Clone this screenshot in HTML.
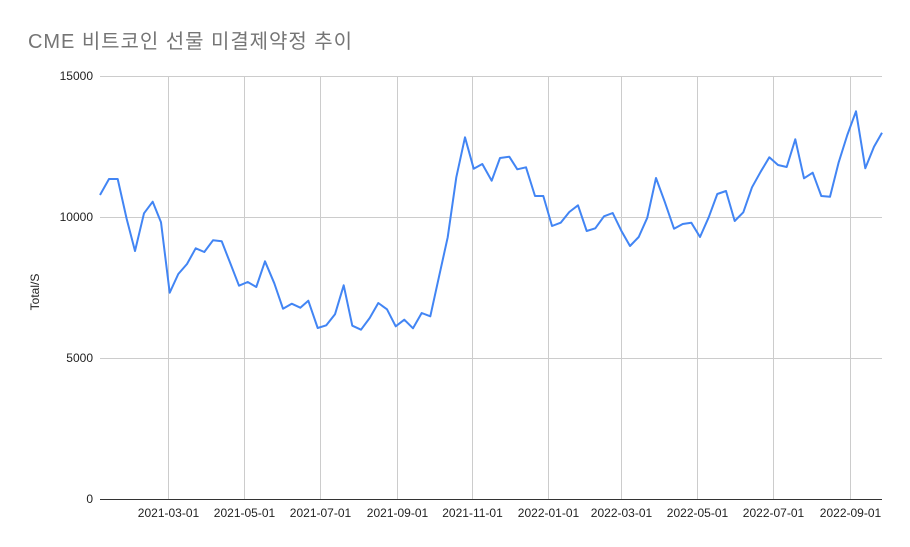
<!DOCTYPE html>
<html><head><meta charset="utf-8"><style>
html,body{margin:0;padding:0;background:#fff;width:910px;height:547px;overflow:hidden}
svg{display:block}
</style></head><body>
<svg width="910" height="547" viewBox="0 0 910 547" xmlns="http://www.w3.org/2000/svg">
<rect width="910" height="547" fill="#fff"/>
<text x="28" y="48" font-family="'Liberation Sans','Noto Sans CJK KR',sans-serif" font-size="20" textLength="324" lengthAdjust="spacing" fill="#757575">CME 비트코인 선물 미결제약정 추이</text>
<g stroke="#cccccc" stroke-width="1">
<line x1="100" y1="76.5" x2="882" y2="76.5"/>
<line x1="100" y1="217.5" x2="882" y2="217.5"/>
<line x1="100" y1="358.5" x2="882" y2="358.5"/>
<line x1="168.5" y1="76" x2="168.5" y2="499"/>
<line x1="244.5" y1="76" x2="244.5" y2="499"/>
<line x1="320.5" y1="76" x2="320.5" y2="499"/>
<line x1="397.5" y1="76" x2="397.5" y2="499"/>
<line x1="472.5" y1="76" x2="472.5" y2="499"/>
<line x1="548.5" y1="76" x2="548.5" y2="499"/>
<line x1="621.5" y1="76" x2="621.5" y2="499"/>
<line x1="697.5" y1="76" x2="697.5" y2="499"/>
<line x1="773.5" y1="76" x2="773.5" y2="499"/>
<line x1="850.5" y1="76" x2="850.5" y2="499"/>
</g>
<line x1="100" y1="499.5" x2="882" y2="499.5" stroke="#333" stroke-width="1"/>
<g font-family="'Liberation Sans',sans-serif" font-size="12" fill="#222" text-anchor="end">
<text x="93" y="80">15000</text>
<text x="93" y="221">10000</text>
<text x="93" y="362">5000</text>
<text x="93" y="503">0</text>
</g>
<g font-family="'Liberation Sans',sans-serif" font-size="12" fill="#222" text-anchor="middle">
<text x="168.5" y="517">2021-03-01</text>
<text x="244.5" y="517">2021-05-01</text>
<text x="320.5" y="517">2021-07-01</text>
<text x="397.5" y="517">2021-09-01</text>
<text x="472.5" y="517">2021-11-01</text>
<text x="548.5" y="517">2022-01-01</text>
<text x="621.5" y="517">2022-03-01</text>
<text x="697.5" y="517">2022-05-01</text>
<text x="773.5" y="517">2022-07-01</text>
<text x="850.5" y="517">2022-09-01</text>
</g>
<text transform="translate(39,292) rotate(-90)" font-family="'Liberation Sans',sans-serif" font-size="12" fill="#222" text-anchor="middle">Total/S</text>
<polyline fill="none" stroke="#4285f4" stroke-width="2" stroke-linejoin="round" points="100,195 109,179 117.7,179 126.7,219 135,251 144,213.3 152.7,201.7 161,222.3 169.7,292.7 178.3,274 187,264 195.7,248.3 204.3,252 213,240.3 221.7,241.3 230.3,263.3 239,285.7 247.7,282 256.3,287 265,261.3 274.3,283.3 283,308.7 291.7,303.7 300.3,307.7 308.3,300.7 317.7,328 326.3,325.3 335,314.3 343.7,285.3 352.3,325.7 361,329.7 369.7,318 378.3,303 387,309.3 395.7,326.3 404.3,319.7 413,328.3 421.7,313 430.3,316.3 439,276.7 447.7,237.3 456.3,177.3 465,137.3 473.7,168.7 482.3,164 491.7,180.7 500,158 509.3,156.7 517.3,169.3 526,167.3 535,196 543.3,196 552,226 560.7,222.7 569.3,212 578,205.3 586.7,231 595.3,228.3 604,216.3 612.7,213 621.3,230.7 630,246 638.7,237 647.3,217.7 656,178 664.7,201.7 674,228.7 682.7,224 691.3,222.7 700,237 708.7,217.3 717.3,194 726,191 734.7,221 743.3,212.3 752,187.3 760.7,171.7 769.3,157.3 778,165 786.7,167 795.3,139.3 804,178.3 812.7,172.7 821.3,196 830,196.7 838.7,162.3 847.3,135 856,111.3 865.3,168.3 874,146.7 882,132.7"/>
</svg>
</body></html>
